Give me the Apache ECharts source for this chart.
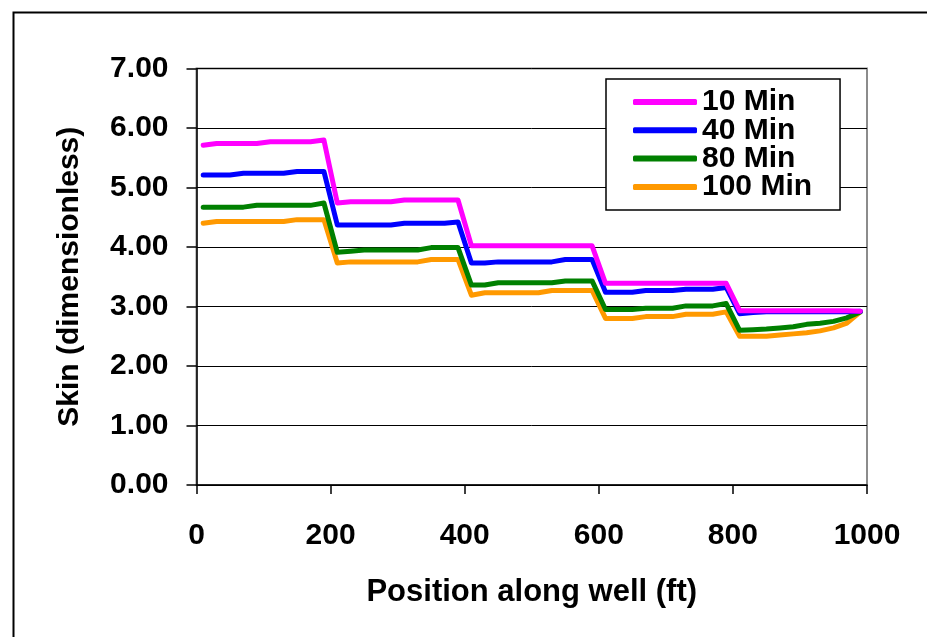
<!DOCTYPE html>
<html>
<head>
<meta charset="utf-8">
<script src="https://cdn.jsdelivr.net/npm/echarts@6/dist/echarts.min.js"></script>
<style>
html,body{margin:0;padding:0;background:#fff;}
#chart{width:927px;height:637px;}
</style>
</head>
<body>
<div id="chart"></div>
<script>
const positions = [10,30,50,70,90,110,130,150,170,190,
  210,230,250,270,290,310,330,350,370,390,
  410,430,450,470,490,510,530,550,570,590,
  610,630,650,670,690,710,730,750,770,790,
  810,830,850,870,890,910,930,950,970,990];
const seriesNames = ['10 Min','40 Min','80 Min','100 Min'];
const skin10 = [5.71,5.74,5.74,5.74,5.74,5.77,5.77,5.77,5.77,5.80,
  4.74,4.76,4.76,4.76,4.76,4.79,4.79,4.79,4.79,4.79,
  4.02,4.02,4.02,4.02,4.02,4.02,4.02,4.02,4.02,4.02,
  3.39,3.39,3.39,3.39,3.39,3.39,3.39,3.39,3.39,3.39,
  2.93,2.93,2.93,2.93,2.93,2.93,2.93,2.93,2.93,2.92];
const skin40 = [5.21,5.21,5.21,5.24,5.24,5.24,5.24,5.27,5.27,5.27,
  4.37,4.37,4.37,4.37,4.37,4.40,4.40,4.40,4.40,4.42,
  3.73,3.73,3.75,3.75,3.75,3.75,3.75,3.79,3.79,3.79,
  3.24,3.24,3.24,3.27,3.27,3.27,3.29,3.29,3.29,3.32,
  2.88,2.90,2.91,2.91,2.91,2.91,2.91,2.91,2.91,2.92];
const skin80 = [4.67,4.67,4.67,4.67,4.70,4.70,4.70,4.70,4.70,4.74,
  3.91,3.93,3.95,3.95,3.95,3.95,3.95,3.99,3.99,3.99,
  3.36,3.36,3.40,3.40,3.40,3.40,3.40,3.43,3.43,3.43,
  2.95,2.95,2.95,2.97,2.97,2.97,3.01,3.01,3.01,3.05,
  2.60,2.61,2.62,2.64,2.66,2.70,2.72,2.75,2.81,2.91];
const skin100 = [4.40,4.43,4.43,4.43,4.43,4.43,4.43,4.46,4.46,4.46,
  3.73,3.75,3.75,3.75,3.75,3.75,3.75,3.79,3.79,3.79,
  3.19,3.23,3.23,3.23,3.23,3.23,3.27,3.27,3.27,3.27,
  2.80,2.80,2.80,2.83,2.83,2.83,2.87,2.87,2.87,2.91,
  2.50,2.50,2.50,2.52,2.54,2.56,2.59,2.64,2.72,2.91];
const colors = ['#FF00FF','#0000FF','#008000','#FF9900'];
const allValues = [skin10, skin40, skin80, skin100];

const FONT = '"Liberation Sans", Arial, sans-serif';
const chart = echarts.init(document.getElementById('chart'), null, {renderer:'canvas'});
const option = {
  animation: false,
  backgroundColor: '#ffffff',
  grid: {left:196.5, right:60, top:68.5, bottom:152, show:true, borderColor:'#8c8c8c', borderWidth:2, backgroundColor:'transparent'},
  legend: {
    left: 606, top: 79, orient: 'vertical',
    backgroundColor: '#ffffff', borderColor: '#000', borderWidth: 1.5,
    padding: [8, 28, 8, 27],
    itemWidth: 64, itemHeight: 6, itemGap: -1.7,
    icon: 'roundRect',
    textStyle: {fontFamily: FONT, fontWeight: 'bold', fontSize: 30, color: '#000'},
    data: seriesNames
  },
  xAxis: {
    type: 'value', min: 0, max: 1000, interval: 200,
    name: 'Position along well (ft)', nameLocation: 'middle', nameGap: 92,
    nameTextStyle: {fontFamily: FONT, fontWeight: 'bold', fontSize: 31, color: '#000'},
    axisLine: {show: true, lineStyle: {color: '#000', width: 1.5}},
    axisTick: {show: true, inside: false, length: 9, lineStyle: {color: '#000', width: 1.5}},
    axisLabel: {fontFamily: FONT, fontWeight: 'bold', fontSize: 30, color: '#000', margin: 36,
      formatter: v => String(v)},
    splitLine: {show: false}
  },
  yAxis: {
    type: 'value', min: 0, max: 7, interval: 1,
    name: 'Skin (dimensionless)', nameLocation: 'middle', nameGap: 112, nameRotate: 90,
    nameTextStyle: {fontFamily: FONT, fontWeight: 'bold', fontSize: 30, color: '#000'},
    axisLine: {show: true, lineStyle: {color: '#000', width: 1.5}},
    axisTick: {show: true, inside: false, length: 10, lineStyle: {color: '#000', width: 1.5}},
    axisLabel: {fontFamily: FONT, fontWeight: 'bold', fontSize: 30, color: '#000', margin: 28,
      formatter: v => v.toFixed(2)},
    splitLine: {show: true, lineStyle: {color: '#000', width: 1}}
  },
  graphic: [{
    type: 'rect', left: 11, top: 10, silent: true,
    shape: {x: 0, y: 0, width: 1000, height: 700},
    style: {fill: 'none', stroke: '#000', lineWidth: 2}
  }],
  series: seriesNames.map((n, i) => ({
    name: n, type: 'line', showSymbol: false, symbol: 'none',
    color: colors[i],
    lineStyle: {width: 5, color: colors[i], join: 'round', cap: 'round'},
    data: positions.map((x, j) => [x, allValues[i][j]]),
    z: 10 - i
  }))
};
chart.setOption(option);
</script>
</body>
</html>
